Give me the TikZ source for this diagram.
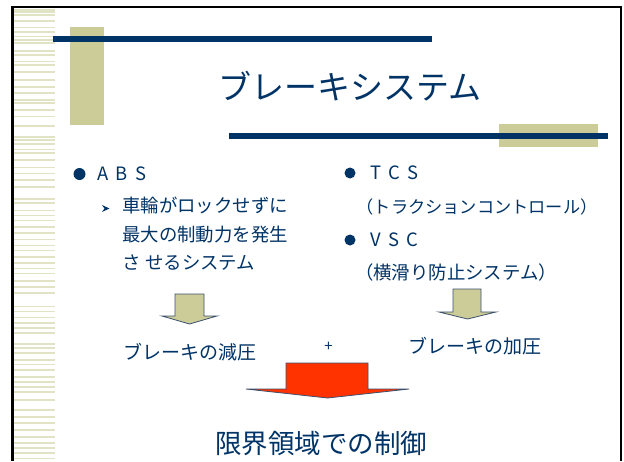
\documentclass[tikz,border=0pt]{standalone}
\usepackage{fontspec}
\newfontfamily\jp{Noto Sans CJK JP}
\definecolor{navy}{RGB}{0,51,102}
\definecolor{khaki}{RGB}{204,204,153}
\definecolor{stripe}{RGB}{226,226,196}
\definecolor{redarrow}{RGB}{255,51,0}
\definecolor{edgegray}{RGB}{60,80,110}
\newcommand{\lpar}{\makebox[0.45em][r]{（}}
\newcommand{\rpar}{\makebox[0.45em][l]{）}}
\begin{document}
\begin{tikzpicture}[x=1pt,y=-1pt,
  txt/.style={font=\jp\fontsize{18.4}{22}\selectfont, text=navy, inner sep=0pt, anchor=west},
  ctxt/.style={txt, anchor=center},
  bar/.style={fill=navy},
  deco/.style={fill=khaki},
  bulletdot/.style={fill=navy},
  khakiarrow/.style={fill=khaki, draw=edgegray, line width=0.8pt, line join=miter},
  redblock/.style={fill=redarrow, draw=edgegray, line width=0.8pt, line join=miter},
  stripeline/.style={draw=stripe}
]
\useasboundingbox (0,0) rectangle (624,461);
\fill[white] (0,0) rectangle (624,461);

% left striped band
\pgfmathsetseed{11}
\foreach \yy in {10,12,15,21,27,32,36,40,43,51,55,61,65,72,80,87,93,100,103,110,116,126,137,140,144,149,153,160,167,173,180,187,199,203,210,215,220,227,233,239,245,250,257,263,268,273,281,287,293,306,311,317,323,328,333,344,348,353,360,364,370,377,382,387,392,400,410,417,423,430,437,443,448,453,458}{
  \pgfmathsetmacro{\lw}{0.6+1.8*rnd}
  \draw[stripeline, line width=\lw pt] (14,\yy) -- (55,\yy);
}

% frame
\draw[black, line width=2.6pt] (12.3,461) -- (12.3,7) -- (621,7) -- (621,461);

% header decoration
\fill[deco] (70,27) rectangle (104,125);
\fill[bar] (53,36) rectangle (432,42);
\fill[deco] (499,124) rectangle (598,147);
\fill[bar] (229,133) rectangle (608,139);

% title
\node[ctxt, font=\jp\fontsize{33}{38}\selectfont] (title) at (350,86) {ブレーキシステム};

% left column
\fill[bulletdot] (79.5,174) circle (6);
\node[txt] (abs) at (97,174) {A\hspace{0.4em}B\hspace{0.4em}S};
\fill[navy] (102,205) -- (109.5,208.5) -- (102,212) -- (104.5,208.5) -- cycle;
\node[txt] (l1) at (122,205.5) {車輪がロックせずに};
\node[txt] (l2) at (122,235) {最大の制動力を発生};
\node[txt] (l3) at (122,263) {さ\hspace{0.25em}せるシステム};

% right column
\fill[bulletdot] (350,173) circle (5.5);
\node[txt] (tcs) at (370,173) {T\hspace{0.4em}C\hspace{0.4em}S};
\node[txt, font=\jp\fontsize{17.2}{22}\selectfont] (tcsj) at (366,207) {\lpar トラクションコントロール\rpar};
\fill[bulletdot] (350,240) circle (5.5);
\node[txt] (vsc) at (370,240) {V\hspace{0.4em}S\hspace{0.4em}C};
\node[txt] (vscj) at (365,273) {\lpar 横滑り防止システム\rpar};

% khaki arrows
\draw[khakiarrow] (175,294) -- (204,294) -- (204,316) -- (217,316) -- (189.5,324) -- (162,316) -- (175,316) -- cycle;
\draw[khakiarrow] (453,289) -- (481,289) -- (481,312) -- (496,312) -- (467.5,319) -- (439,312) -- (453,312) -- cycle;

% results
\node[txt, font=\jp\fontsize{19}{22}\selectfont] (dec) at (123,352) {ブレーキの減圧};
\node[ctxt, font=\jp\fontsize{15}{18}\selectfont] (plus) at (328.5,347) {+};
\node[txt, font=\jp\fontsize{19}{22}\selectfont] (inc) at (408,346) {ブレーキの加圧};

% red arrow
\draw[redblock] (286,363) -- (368,363) -- (368,389) -- (409,389) -- (327.5,398) -- (246,389) -- (286,389) -- cycle;

\node[ctxt, font=\jp\fontsize{26.5}{30}\selectfont] (limit) at (321,443.5) {限界領域での制御};
\end{tikzpicture}
\end{document}
